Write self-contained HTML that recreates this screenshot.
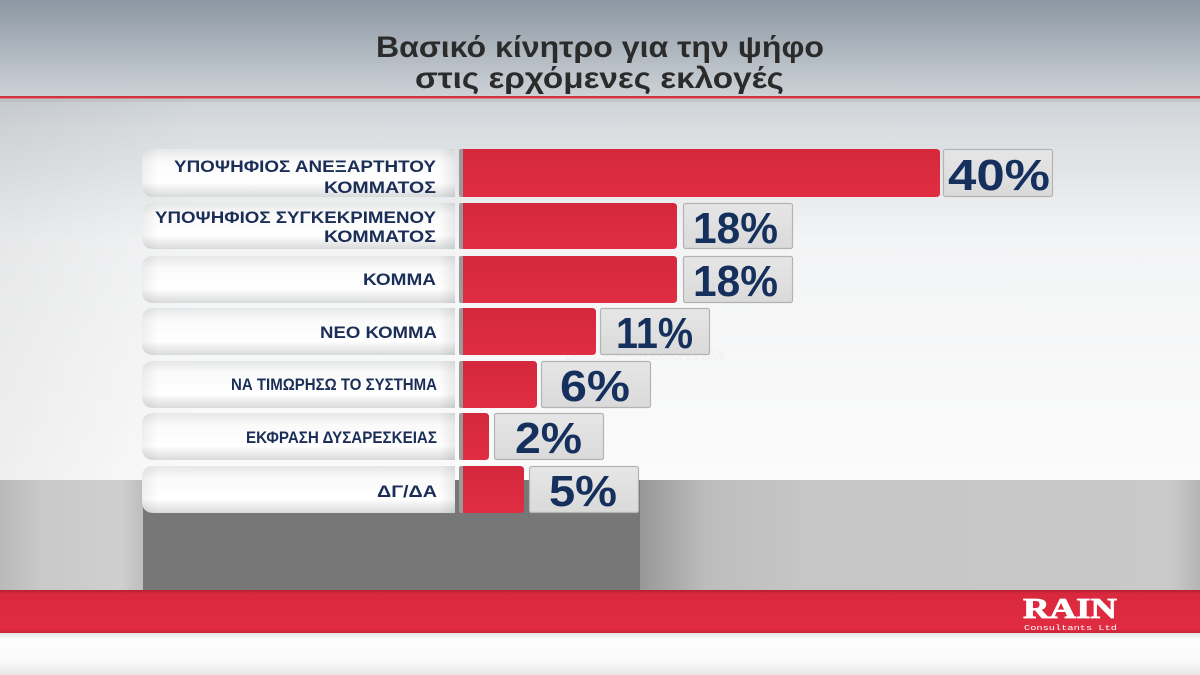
<!DOCTYPE html>
<html>
<head>
<meta charset="utf-8">
<style>
html,body{margin:0;padding:0;width:1200px;height:675px;overflow:hidden;background:#fff;}
svg{display:block;}
</style>
</head>
<body>
<svg width="1200" height="675" viewBox="0 0 1200 675" xmlns="http://www.w3.org/2000/svg">
<defs>
  <linearGradient id="bgTop" x1="0" y1="0" x2="0" y2="1">
    <stop offset="0" stop-color="#8c97a3"/>
    <stop offset="0.2" stop-color="#cdd2d7"/>
    <stop offset="0.27" stop-color="#d9dde0"/>
    <stop offset="0.5" stop-color="#f3f4f5"/>
    <stop offset="1" stop-color="#fbfbfb"/>
  </linearGradient>
  <linearGradient id="bgLeft" x1="0" y1="0" x2="1" y2="0">
    <stop offset="0" stop-color="#000" stop-opacity="0.05"/>
    <stop offset="1" stop-color="#000" stop-opacity="0"/>
  </linearGradient>
  <linearGradient id="labelG" x1="0" y1="0" x2="0" y2="1">
    <stop offset="0" stop-color="#e6e7e8"/>
    <stop offset="0.25" stop-color="#fafafa"/>
    <stop offset="0.7" stop-color="#ffffff"/>
    <stop offset="1" stop-color="#d9dadb"/>
  </linearGradient>
  <linearGradient id="labelSide" x1="0" y1="0" x2="1" y2="0">
    <stop offset="0" stop-color="#000" stop-opacity="0.06"/>
    <stop offset="0.05" stop-color="#000" stop-opacity="0"/>
    <stop offset="0.95" stop-color="#000" stop-opacity="0"/>
    <stop offset="1" stop-color="#000" stop-opacity="0.08"/>
  </linearGradient>
  <linearGradient id="barG" x1="0" y1="0" x2="0" y2="1">
    <stop offset="0" stop-color="#d4283c"/>
    <stop offset="1" stop-color="#e02d43"/>
  </linearGradient>
  <linearGradient id="valG" x1="0" y1="0" x2="0" y2="1">
    <stop offset="0" stop-color="#e6e6e6"/>
    <stop offset="1" stop-color="#dadada"/>
  </linearGradient>
  <linearGradient id="bandRight" x1="0" y1="0" x2="1" y2="0">
    <stop offset="0" stop-color="#989898"/>
    <stop offset="0.12" stop-color="#bdbdbd"/>
    <stop offset="0.3" stop-color="#c6c6c6"/>
    <stop offset="0.95" stop-color="#c9c9c9"/>
    <stop offset="1" stop-color="#b4b4b4"/>
  </linearGradient>
  <linearGradient id="bandLeft" x1="0" y1="0" x2="1" y2="0">
    <stop offset="0" stop-color="#b9b9b9"/>
    <stop offset="0.3" stop-color="#c9c9c9"/>
    <stop offset="0.85" stop-color="#cfcfcf"/>
    <stop offset="1" stop-color="#bdbdbd"/>
  </linearGradient>
  <linearGradient id="redBand" x1="0" y1="0" x2="0" y2="1">
    <stop offset="0" stop-color="#b21f31"/>
    <stop offset="0.08" stop-color="#d9283d"/>
    <stop offset="0.9" stop-color="#e12c42"/>
    <stop offset="1" stop-color="#c92437"/>
  </linearGradient>
  <linearGradient id="bottomG" x1="0" y1="0" x2="0" y2="1">
    <stop offset="0" stop-color="#e4e4e4"/>
    <stop offset="0.15" stop-color="#fdfdfd"/>
    <stop offset="0.7" stop-color="#fafafa"/>
    <stop offset="1" stop-color="#e6e6e6"/>
  </linearGradient>
</defs>

<!-- background -->
<rect x="0" y="0" width="1200" height="480" fill="url(#bgTop)"/>
<rect x="0" y="100" width="200" height="380" fill="url(#bgLeft)"/>

<!-- title -->
<g font-family="'Liberation Sans', 'DejaVu Sans', sans-serif" font-weight="bold" fill="#2b2b2b" font-size="30">
  <text x="376" y="57" textLength="448" lengthAdjust="spacingAndGlyphs">Βασικό κίνητρο για την ψήφο</text>
  <text x="415" y="88" textLength="369" lengthAdjust="spacingAndGlyphs">στις ερχόμενες εκλογές</text>
</g>

<!-- red line -->
<rect x="0" y="99" width="1200" height="3" fill="#000" opacity="0.06"/>
<rect x="0" y="96" width="1200" height="2.5" fill="#d3323f"/>

<!-- gray band -->
<rect x="0" y="480" width="143" height="110" fill="url(#bandLeft)"/>
<rect x="640" y="480" width="560" height="110" fill="url(#bandRight)"/>
<rect x="143" y="480" width="497" height="110" fill="#777777"/>

<!-- red band -->
<rect x="0" y="590" width="1200" height="43" fill="url(#redBand)"/>
<!-- bottom -->
<rect x="0" y="633" width="1200" height="42" fill="url(#bottomG)"/>

<!-- logo -->
<text x="1023" y="618" font-family="'Liberation Serif', serif" font-weight="900" font-size="28" fill="#ffffff" stroke="#ffffff" stroke-width="0.8" textLength="94" lengthAdjust="spacingAndGlyphs">RAIN</text>
<text x="1024" y="630" font-family="'Liberation Mono', monospace" font-size="7" fill="#ffffff" textLength="93" lengthAdjust="spacingAndGlyphs">Consultants Ltd</text>

<!-- watermark -->
<text x="565" y="360" font-family="'Liberation Sans', sans-serif" font-weight="bold" font-size="14" fill="#000" opacity="0.02" textLength="160" lengthAdjust="spacingAndGlyphs">ΔΗΜΟΣΚΟΠΗΣΗ ΕΚΛΟΓΕΣ 2026</text>

<!-- rows -->
<g id="rows">
  <path d="M154,149 H455 V197 H154 Q142,197 142,185 V161 Q142,149 154,149 Z" fill="url(#labelG)"/>
  <path d="M154,149 H455 V197 H154 Q142,197 142,185 V161 Q142,149 154,149 Z" fill="url(#labelSide)"/>
  <path d="M154,203 H455 V249 H154 Q142,249 142,237 V215 Q142,203 154,203 Z" fill="url(#labelG)"/>
  <path d="M154,203 H455 V249 H154 Q142,249 142,237 V215 Q142,203 154,203 Z" fill="url(#labelSide)"/>
  <path d="M154,256 H455 V303 H154 Q142,303 142,291 V268 Q142,256 154,256 Z" fill="url(#labelG)"/>
  <path d="M154,256 H455 V303 H154 Q142,303 142,291 V268 Q142,256 154,256 Z" fill="url(#labelSide)"/>
  <path d="M154,308 H455 V355 H154 Q142,355 142,343 V320 Q142,308 154,308 Z" fill="url(#labelG)"/>
  <path d="M154,308 H455 V355 H154 Q142,355 142,343 V320 Q142,308 154,308 Z" fill="url(#labelSide)"/>
  <path d="M154,361 H455 V408 H154 Q142,408 142,396 V373 Q142,361 154,361 Z" fill="url(#labelG)"/>
  <path d="M154,361 H455 V408 H154 Q142,408 142,396 V373 Q142,361 154,361 Z" fill="url(#labelSide)"/>
  <path d="M154,413 H455 V460 H154 Q142,460 142,448 V425 Q142,413 154,413 Z" fill="url(#labelG)"/>
  <path d="M154,413 H455 V460 H154 Q142,460 142,448 V425 Q142,413 154,413 Z" fill="url(#labelSide)"/>
  <path d="M154,466 H455 V513 H154 Q142,513 142,501 V478 Q142,466 154,466 Z" fill="url(#labelG)"/>
  <path d="M154,466 H455 V513 H154 Q142,513 142,501 V478 Q142,466 154,466 Z" fill="url(#labelSide)"/>
</g>

<!-- labels -->
<g font-family="'Liberation Sans', 'DejaVu Sans', sans-serif" font-weight="bold" font-size="17" fill="#1b2e57" text-anchor="end">
  <text x="436" y="172" textLength="262" lengthAdjust="spacingAndGlyphs">ΥΠΟΨΗΦΙΟΣ ΑΝΕΞΑΡΤΗΤΟΥ</text>
  <text x="436" y="193" textLength="112" lengthAdjust="spacingAndGlyphs">ΚΟΜΜΑΤΟΣ</text>
  <text x="436" y="223" textLength="281" lengthAdjust="spacingAndGlyphs">ΥΠΟΨΗΦΙΟΣ ΣΥΓΚΕΚΡΙΜΕΝΟΥ</text>
  <text x="436" y="242" textLength="112" lengthAdjust="spacingAndGlyphs">ΚΟΜΜΑΤΟΣ</text>
  <text x="436" y="285" textLength="73" lengthAdjust="spacingAndGlyphs">ΚΟΜΜΑ</text>
  <text x="437" y="338" textLength="117" lengthAdjust="spacingAndGlyphs">ΝΕΟ ΚΟΜΜΑ</text>
  <text x="437" y="390" textLength="206" lengthAdjust="spacingAndGlyphs">ΝΑ ΤΙΜΩΡΗΣΩ ΤΟ ΣΥΣΤΗΜΑ</text>
  <text x="437" y="443" textLength="191" lengthAdjust="spacingAndGlyphs">ΕΚΦΡΑΣΗ ΔΥΣΑΡΕΣΚΕΙΑΣ</text>
  <text x="437" y="497" textLength="60" lengthAdjust="spacingAndGlyphs">ΔΓ/ΔΑ</text>
</g>

<!-- bars -->
<g>
  <rect x="459" y="149" width="6" height="48" rx="2" fill="#9a9a9a"/>
  <path d="M463,149 H936 Q940,149 940,153 V193 Q940,197 936,197 H463 Z" fill="url(#barG)"/>
  <rect x="459" y="203" width="6" height="46" rx="2" fill="#9a9a9a"/>
  <path d="M463,203 H673 Q677,203 677,207 V245 Q677,249 673,249 H463 Z" fill="url(#barG)"/>
  <rect x="459" y="256" width="6" height="47" rx="2" fill="#9a9a9a"/>
  <path d="M463,256 H673 Q677,256 677,260 V299 Q677,303 673,303 H463 Z" fill="url(#barG)"/>
  <rect x="459" y="308" width="6" height="47" rx="2" fill="#9a9a9a"/>
  <path d="M463,308 H592 Q596,308 596,312 V351 Q596,355 592,355 H463 Z" fill="url(#barG)"/>
  <rect x="459" y="361" width="6" height="47" rx="2" fill="#9a9a9a"/>
  <path d="M463,361 H533 Q537,361 537,365 V404 Q537,408 533,408 H463 Z" fill="url(#barG)"/>
  <rect x="459" y="413" width="6" height="47" rx="2" fill="#9a9a9a"/>
  <path d="M463,413 H485 Q489,413 489,417 V456 Q489,460 485,460 H463 Z" fill="url(#barG)"/>
  <rect x="459" y="466" width="6" height="47" rx="2" fill="#9a9a9a"/>
  <path d="M463,466 H520 Q524,466 524,470 V509 Q524,513 520,513 H463 Z" fill="url(#barG)"/>
</g>

<!-- value boxes -->
<g fill="url(#valG)" stroke="#b3b3b3" stroke-width="1.2">
  <rect x="943.5" y="149.5" width="109" height="47" rx="2"/>
  <rect x="683.5" y="203.5" width="109" height="45" rx="2"/>
  <rect x="683.5" y="256.5" width="109" height="46" rx="2"/>
  <rect x="600.5" y="308.5" width="109" height="46" rx="2"/>
  <rect x="541.5" y="361.5" width="109" height="46" rx="2"/>
  <rect x="494.5" y="413.5" width="109" height="46" rx="2"/>
  <rect x="529.5" y="466.5" width="109" height="46" rx="2"/>
</g>

<!-- values -->
<g font-family="'Liberation Sans', 'DejaVu Sans', sans-serif" font-weight="bold" font-size="44" fill="#16305d">
  <text x="948" y="190" textLength="102" lengthAdjust="spacingAndGlyphs">40%</text>
  <text x="693" y="243" textLength="85" lengthAdjust="spacingAndGlyphs">18%</text>
  <text x="693" y="296" textLength="85" lengthAdjust="spacingAndGlyphs">18%</text>
  <text x="616" y="348" textLength="77" lengthAdjust="spacingAndGlyphs">11%</text>
  <text x="560" y="401" textLength="70" lengthAdjust="spacingAndGlyphs">6%</text>
  <text x="515" y="453" textLength="67" lengthAdjust="spacingAndGlyphs">2%</text>
  <text x="549" y="506" textLength="68" lengthAdjust="spacingAndGlyphs">5%</text>
</g>
</svg>
</body>
</html>
